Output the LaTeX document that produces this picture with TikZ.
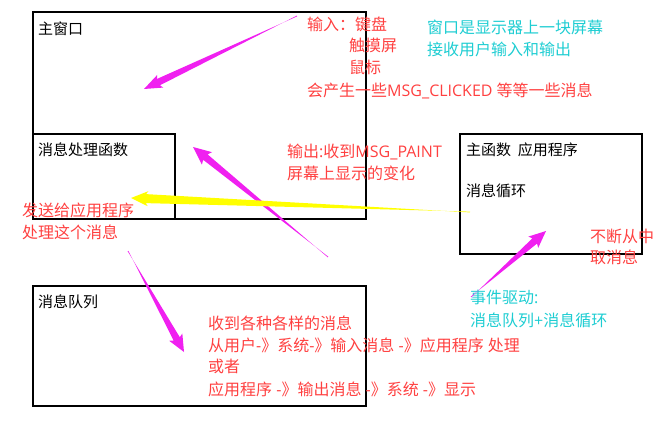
\documentclass[tikz,border=0pt]{standalone}
\usepackage{fontspec}
\newfontfamily\cjk{Noto Sans CJK SC}
\newfontfamily\latf{Open Sans}
\newcommand\lt[1]{{\latf #1}}
\usetikzlibrary{calc}
\definecolor{redtxt}{RGB}{255,64,64}
\definecolor{cyantxt}{RGB}{30,205,210}
\definecolor{magarrow}{RGB}{240,32,240}
\definecolor{yelarrow}{RGB}{255,255,0}
\newcommand\taperarrow[6]{%
  \coordinate (nk) at ($(#3)!#4!(#2)$);
  \coordinate (wg) at ($(#3)!#4+2pt!(#2)$);
  \fill[#1] ($(#2)!0.4pt!90:(#3)$) -- ($(nk)!#6!-90:(#3)$) -- ($(wg)!#5!-90:(#3)$) -- (#3)
    -- ($(wg)!#5!90:(#3)$) -- ($(nk)!#6!90:(#3)$) -- ($(#2)!0.4pt!-90:(#3)$) -- cycle;}
\tikzset{
  lbl/.style={anchor=west, inner sep=0pt},
  box/.style={draw=black, line width=1.2pt, fill=none},
  blk/.style={lbl, text=black, font=\cjk\fontsize{15}{18}\selectfont, text height=12pt, text depth=0.8pt},
  red/.style={lbl, text=redtxt, font=\cjk\fontsize{16}{19}\selectfont, text height=12.8pt, text depth=0.8pt},
  cya/.style={lbl, text=cyantxt, font=\cjk\fontsize{16}{19}\selectfont, text height=12.8pt, text depth=0.8pt}
}
\begin{document}
\begin{tikzpicture}[x=1pt,y=-1pt]
\useasboundingbox (0,0) rectangle (672,434);
% boxes
\draw[box] (33,12) rectangle (366,219);
\draw[box] (33,134) rectangle (175,219);
\draw[box] (460,134) rectangle (642,254);
\draw[box] (33,286) rectangle (366,406);
% black labels
\node[blk] (tmain) at (38,29) {主窗口};
\node[blk] (thandler) at (38,150) {消息处理函数};
\node[blk] (tmainfn) at (466,150) {主函数\ \ 应用程序};
\node[blk] (tloop) at (466,191) {消息循环};
\node[blk] (tqueue) at (38,302) {消息队列};
% red labels
\node[red] (r1) at (307,24) {输入：键盘};
\node[red] (r2) at (349,45) {触摸屏};
\node[red] (r3) at (349,67) {鼠标};
\node[red] (r4) at (307,90) {会产生一些\lt{MSG\_CLICKED }等等一些消息};
\node[red] (r5) at (287,151) {输出\lt{:}收到\lt{MSG\_PAINT}};
\node[red] (r6) at (287,173) {屏幕上显示的变化};
\node[red] (r7) at (22,210) {发送给应用程序};
\node[red] (r8) at (22,232) {处理这个消息};
\node[red] (r9) at (208,323) {收到各种各样的消息};
\node[red] (r10) at (208,345) {从用户\lt{-}》系统\lt{-}》输入消息\lt{ -}》应用程序\lt{ }处理};
\node[red] (r11) at (208,366) {或者};
\node[red] (r12) at (208,389) {应用程序\lt{ -}》输出消息\lt{ -}》系统\lt{ -}》显示};
\node[red] (r13) at (590,236) {不断从中};
\node[red] (r14) at (590,257) {取消息};
% cyan labels
\node[cya] (c1) at (427,27) {窗口是显示器上一块屏幕};
\node[cya] (c2) at (427,49) {接收用户输入和输出};
\node[cya] (c3) at (470,297) {事件驱动\lt{:}};
\node[cya] (c4) at (470,320) {消息队列\lt{+}消息循环};
% arrows
\coordinate (a1t) at (297,16); \coordinate (a1h) at (144,89);
\coordinate (a2t) at (328,257); \coordinate (a2h) at (193,147);
\coordinate (a3t) at (470,212); \coordinate (a3h) at (131,198);
\coordinate (a4t) at (128,251); \coordinate (a4h) at (184,352);
\coordinate (a5t) at (471,297); \coordinate (a5h) at (546,231);
\taperarrow{magarrow}{a1t}{a1h}{16pt}{7pt}{3.5pt}
\taperarrow{magarrow}{a2t}{a2h}{16pt}{8pt}{3.5pt}
\taperarrow{yelarrow}{a3t}{a3h}{15pt}{7.5pt}{4.5pt}
\taperarrow{magarrow}{a4t}{a4h}{15pt}{7.5pt}{3.5pt}
\taperarrow{magarrow}{a5t}{a5h}{15pt}{7.5pt}{3.5pt}
\end{tikzpicture}
\end{document}
